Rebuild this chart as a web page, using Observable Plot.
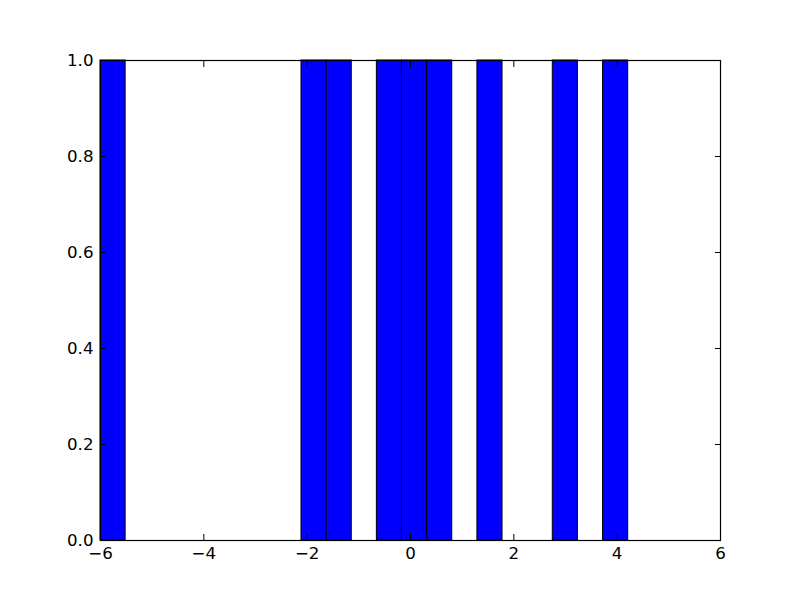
<!DOCTYPE html>
<html>
<head>
<meta charset="utf-8">
<script src="https://cdn.jsdelivr.net/npm/d3@7"></script>
<script src="https://cdn.jsdelivr.net/npm/@observablehq/plot@0.6"></script>
<style>
  html, body { margin: 0; padding: 0; background: #fff; }
  #chart svg { display: block; }
</style>
</head>
<body>
<div id="chart"></div>
<script>
// Histogram bins that hold a value (bin edges and counts)
const binStart = [-6.000, -2.110, -1.623, -0.651, -0.165, 0.322, 1.295, 2.754, 3.727];
const binEnd   = [-5.514, -1.623, -1.137, -0.165,  0.322, 0.808, 1.781, 3.240, 4.213];
const counts   = [1, 1, 1, 1, 1, 1, 1, 1, 1];

const xTicks = [-6, -4, -2, 0, 2, 4, 6];
const yTicks = [0.0, 0.2, 0.4, 0.6, 0.8, 1.0];

const bins = binStart.map((s, i) => ({x1: s, x2: binEnd[i], y: counts[i]}));

const font = "DejaVu Sans, sans-serif";
const fs = 16.67;

const chart = Plot.plot({
  width: 800,
  height: 600,
  marginLeft: 100,
  marginRight: 80,
  marginTop: 60,
  marginBottom: 60,
  style: {fontFamily: font, fontSize: fs + "px", color: "black", background: "white"},
  x: {domain: [-6, 6], label: null},
  y: {domain: [0, 1], label: null},
  marks: [
    Plot.rectY(bins, {x1: "x1", x2: "x2", y1: 0, y2: "y", fill: "#0000ff", stroke: "black", strokeWidth: 1, inset: 0}),
    // tick labels
    Plot.axisX({anchor: "bottom", ticks: xTicks, tickSize: 0, tickPadding: 7, fontSize: fs, label: null, tickFormat: d3.format("")}),
    Plot.axisY({anchor: "left", ticks: yTicks, tickSize: 0, tickPadding: 7, fontSize: fs, label: null, tickFormat: d3.format(".1f")}),
    // inward tick marks on all four sides
    Plot.axisX({anchor: "bottom", ticks: xTicks, tickSize: -6, text: null, label: null, strokeWidth: 1}),
    Plot.axisX({anchor: "top", ticks: xTicks, tickSize: -6, text: null, label: null, strokeWidth: 1}),
    Plot.axisY({anchor: "left", ticks: yTicks, tickSize: -6, text: null, label: null, strokeWidth: 1}),
    Plot.axisY({anchor: "right", ticks: yTicks, tickSize: -6, text: null, label: null, strokeWidth: 1}),
    Plot.frame({stroke: "black", strokeWidth: 1.2})
  ]
});
document.getElementById("chart").appendChild(chart);
</script>
</body>
</html>
